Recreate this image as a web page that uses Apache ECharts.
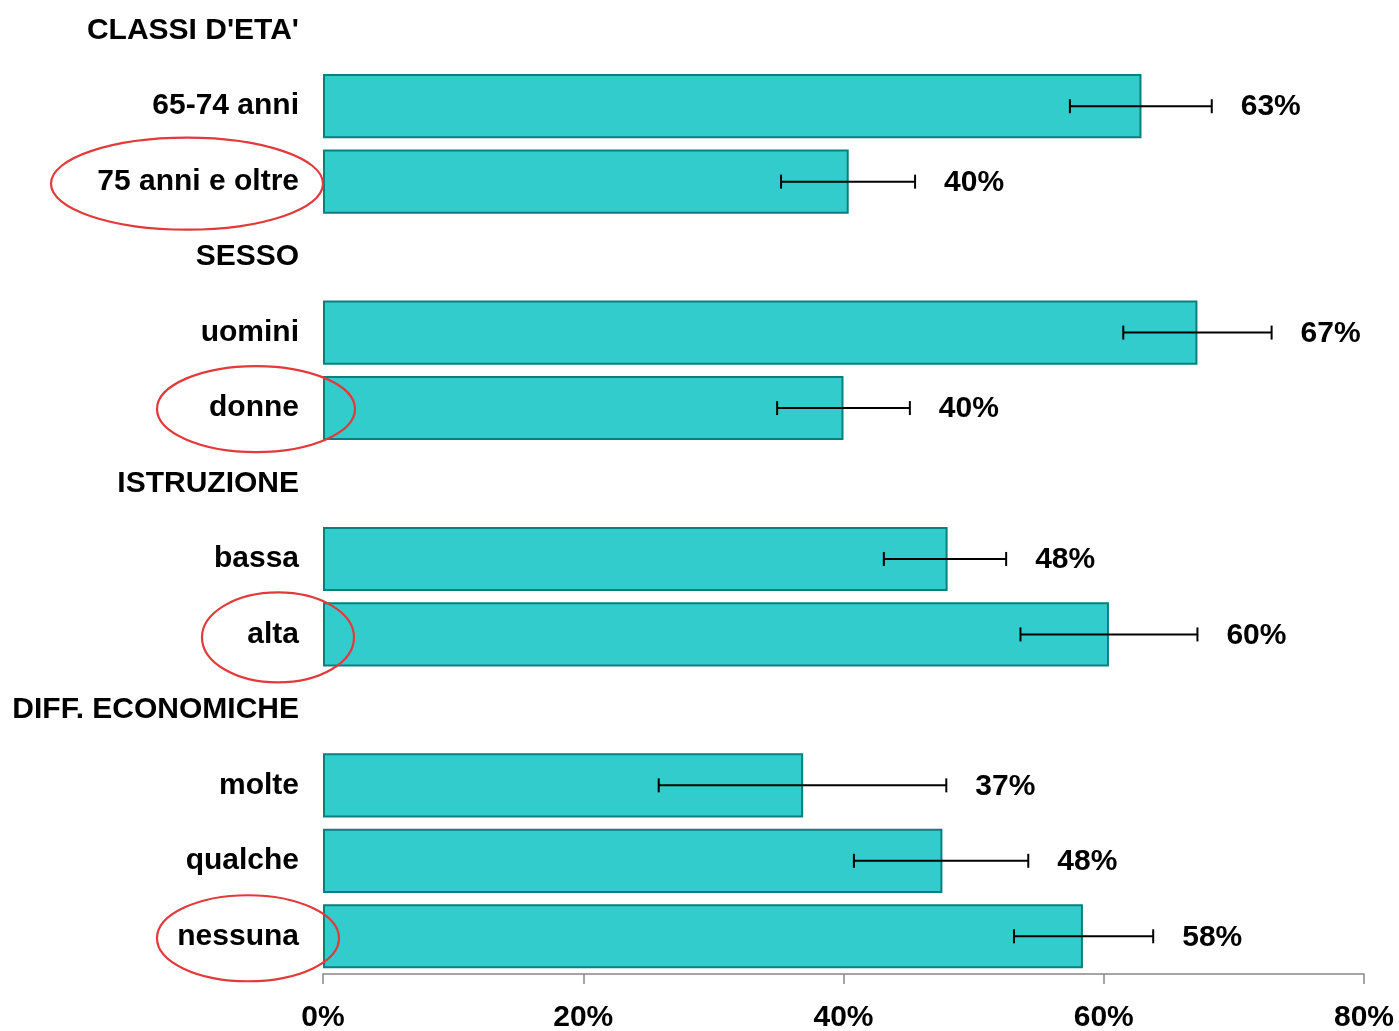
<!DOCTYPE html>
<html>
<head>
<meta charset="utf-8">
<script src="https://cdn.jsdelivr.net/npm/echarts@6/dist/echarts.min.js"></script>
<style>
html,body{margin:0;padding:0;background:#fff;overflow:hidden;}
#main{width:1399px;height:1031px;}
</style>
</head>
<body>
<div id="main"></div>
<script>
// categorie (le intestazioni di gruppo non hanno barra)
var categories = ["CLASSI D'ETA'", '65-74 anni', '75 anni e oltre', 'SESSO', 'uomini', 'donne',
  'ISTRUZIONE', 'bassa', 'alta', 'DIFF. ECONOMICHE', 'molte', 'qualche', 'nessuna'];
var values = [null, 62.9, 40.4, null, 67.2, 40.0, null, 48.0, 60.4, null, 36.9, 47.6, 58.4];
var lower = [null, 57.4, 35.2, null, 61.5, 34.9, null, 43.1, 53.6, null, 25.8, 40.8, 53.1];
var upper = [null, 68.3, 45.5, null, 72.9, 45.1, null, 52.5, 67.2, null, 47.9, 54.2, 63.8];
var xTicks = [0, 20, 40, 60, 80];
var circled = ['75 anni e oltre', 'donne', 'alta', 'nessuna'];

var FONT = '"Liberation Sans", Arial, sans-serif';

var barData = [];
var errData = [];
for (var i = 0; i < categories.length; i++) {
  barData.push(values[i] == null ? '-' : values[i]);
  if (values[i] != null) {
    errData.push([lower[i], upper[i], i, Math.round(values[i]) + '%']);
  }
}

var myChart = echarts.init(document.getElementById('main'));
var option = {
  animation: false,
  grid: {
    left: 323,
    right: 35,
    top: -7,
    bottom: 57,
    outerBoundsMode: 'none'
  },
  xAxis: {
    type: 'value',
    min: xTicks[0],
    max: xTicks[xTicks.length - 1],
    interval: 20,
    axisLine: {show: true, lineStyle: {color: '#888', width: 1.5}},
    axisTick: {show: true, length: 10, lineStyle: {color: '#888', width: 1.5}},
    splitLine: {show: false},
    axisLabel: {
      margin: 29,
      color: '#000',
      fontFamily: FONT,
      fontWeight: 'bold',
      fontSize: 30,
      formatter: '{value}%'
    }
  },
  yAxis: {
    type: 'category',
    inverse: true,
    data: categories,
    axisLine: {show: false},
    axisTick: {show: false},
    axisLabel: {
      margin: 24,
      color: '#000',
      fontFamily: FONT,
      fontWeight: 'bold',
      fontSize: 30
    }
  },
  series: [
    {
      name: 'valore',
      type: 'bar',
      data: barData,
      barCategoryGap: '15%',
      itemStyle: {
        color: '#33CCCC',
        borderColor: '#0B7F7F',
        borderWidth: 2
      },
      z: 2
    },
    {
      name: 'intervallo',
      type: 'custom',
      data: errData,
      encode: {x: [0, 1], y: 2},
      z: 5,
      renderItem: function (params, api) {
        var idx = api.value(2);
        var p1 = api.coord([api.value(0), idx]);
        var p2 = api.coord([api.value(1), idx]);
        var y = p1[1];
        var cap = 7;
        var st = {stroke: '#000', lineWidth: 2};
        return {
          type: 'group',
          children: [
            {type: 'line', shape: {x1: p1[0], y1: y, x2: p2[0], y2: y}, style: st},
            {type: 'line', shape: {x1: p1[0], y1: y - cap, x2: p1[0], y2: y + cap}, style: st},
            {type: 'line', shape: {x1: p2[0], y1: y - cap, x2: p2[0], y2: y + cap}, style: st},
            {
              type: 'text',
              x: p2[0] + 29,
              y: y + 1,
              style: {
                text: errData[params.dataIndex][3],
                fill: '#000',
                font: 'bold 30px ' + FONT,
                textAlign: 'left',
                textVerticalAlign: 'middle'
              }
            }
          ]
        };
      }
    }
  ]
};
myChart.setOption(option);

// ellissi rosse attorno ad alcune etichette
var ellShape = {
  '75 anni e oltre': {cx: 187, rx: 136, ry: 46, dy: 2},
  'donne': {cx: 256, rx: 99, ry: 43, dy: 1},
  'alta': {cx: 278, rx: 76, ry: 45, dy: 3},
  'nessuna': {cx: 248, rx: 91, ry: 43, dy: 2}
};
var graphics = [];
circled.forEach(function (c) {
  var cy = myChart.convertToPixel({yAxisIndex: 0}, c);
  var s = ellShape[c];
  graphics.push({
    type: 'ellipse',
    shape: {cx: s.cx, cy: cy + s.dy, rx: s.rx, ry: s.ry},
    style: {fill: null, stroke: '#E23A3A', lineWidth: 2.2},
    z: 100
  });
});
myChart.setOption({graphic: graphics});
</script>
</body>
</html>
